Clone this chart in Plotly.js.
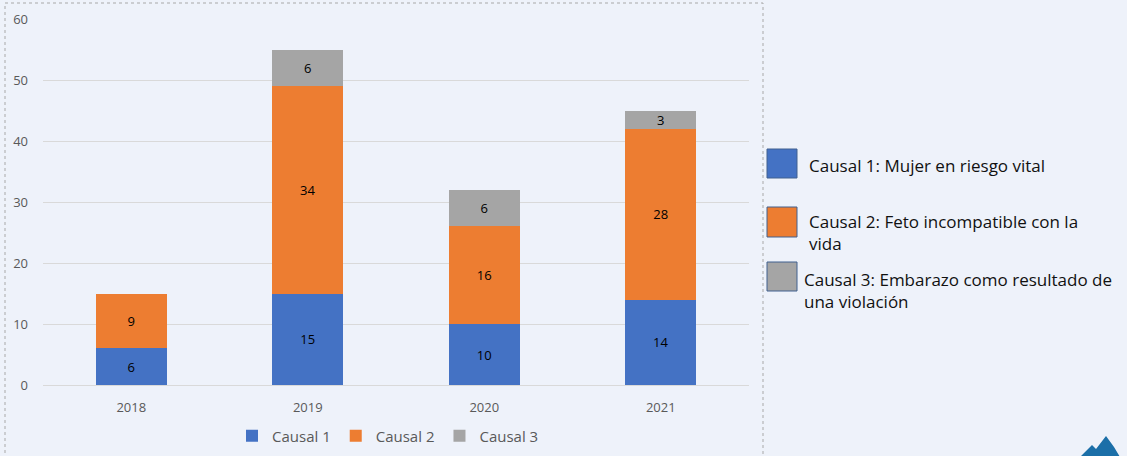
<!DOCTYPE html>
<html><head><meta charset="utf-8">
<script src="https://cdn.plot.ly/plotly-3.0.1.min.js"></script>
<style>html,body{margin:0;padding:0;background:#EEF2FA;}#chart{width:1127px;height:456px;}</style>
</head><body><div id="chart"></div>
<script>
const years = ['2018','2019','2020','2021'];
const causal1 = [6, 15, 10, 14];
const causal2 = [9, 34, 16, 28];
const causal3 = [null, 6, 6, 3];
const seriesNames = ['Causal 1','Causal 2','Causal 3'];
const colors = ['#4472C4','#ED7D31','#A5A5A5'];
const sideLabels = ['Causal 1: Mujer en riesgo vital','Causal 2: Feto incompatible con la<br>vida','Causal 3: Embarazo como resultado de<br>una violación'];

const W=1127,H=456, L=43, R=749, T=19, B=385;
const px = x => (x-L)/(R-L);
const py = y => (B-y)/(B-T);

const data = [causal1,causal2,causal3].map((v,i)=>({
  type:'bar', x:years, y:v, name:seriesNames[i],
  marker:{color:colors[i]},
  text:v.map(d=>d==null?'':String(d)), textposition:'inside', insidetextanchor:'middle',
  textangle:0, constraintext:'none',
  textfont:{color:'#000000',size:13,family:'Open Sans, sans-serif'},
  hoverinfo:'none'
}));

const shapes = [
  {type:'rect', xref:'paper', yref:'paper', x0:px(5), x1:px(763), y0:py(470), y1:py(3),
   line:{color:'#A8A8A8', width:1, dash:'dot'}, fillcolor:'rgba(0,0,0,0)', layer:'below'}
];
const sq = [[149,178],[207,237],[262,291]];
sq.forEach((s,i)=>shapes.push({type:'rect', xref:'paper', yref:'paper', x0:px(767), x1:px(797), y0:py(s[1]), y1:py(s[0]),
  fillcolor:colors[i], line:{color:'#41618F', width:1}}));
shapes.push({type:'path', xref:'paper', yref:'paper',
  path:`M ${px(1080)} ${py(457)} L ${px(1092)} ${py(445)} L ${px(1096)} ${py(449)} L ${px(1106)} ${py(436)} L ${px(1114)} ${py(447)} L ${px(1120)} ${py(457)} Z`,
  fillcolor:'#1B6FA8', line:{width:0}});

const annots = [
  {x:px(807), y:py(165), text:sideLabels[0]},
  {x:px(807), y:py(232), text:sideLabels[1]},
  {x:px(802), y:py(290), text:sideLabels[2]}
].map(a=>({xref:'paper', yref:'paper', x:a.x, y:a.y, text:a.text, showarrow:false, xanchor:'left', yanchor:'middle', align:'left',
  font:{family:'Open Sans, sans-serif', size:17, color:'#111111'}}));

const layout = {
  width:W, height:H, barmode:'stack', bargap:0.6,
  paper_bgcolor:'#EEF2FA', plot_bgcolor:'#EEF2FA',
  margin:{l:L, r:W-R, t:T, b:H-B, autoexpand:false},
  font:{family:'Open Sans, sans-serif', size:13, color:'#595959'},
  xaxis:{type:'category', showgrid:false, showline:true, linecolor:'#D9D9D9', ticks:'', ticklabelstandoff:10, tickfont:{size:13,color:'#595959'}, fixedrange:true},
  yaxis:{range:[0,60], dtick:10, showgrid:true, gridcolor:'#D9D9D9', zeroline:false, showline:false, ticks:'', ticklabelstandoff:14, tickfont:{size:13,color:'#595959'}, fixedrange:true},
  showlegend:true,
  legend:{orientation:'h', x:(388)/W, xref:'container', xanchor:'center', yref:'container', y:(H-436)/H, yanchor:'middle', font:{size:15,color:'#595959'}, traceorder:'normal', itemwidth:30},
  shapes:shapes, annotations:annots
};
Plotly.newPlot('chart', data, layout, {displayModeBar:false, staticPlot:true});
</script></body></html>
